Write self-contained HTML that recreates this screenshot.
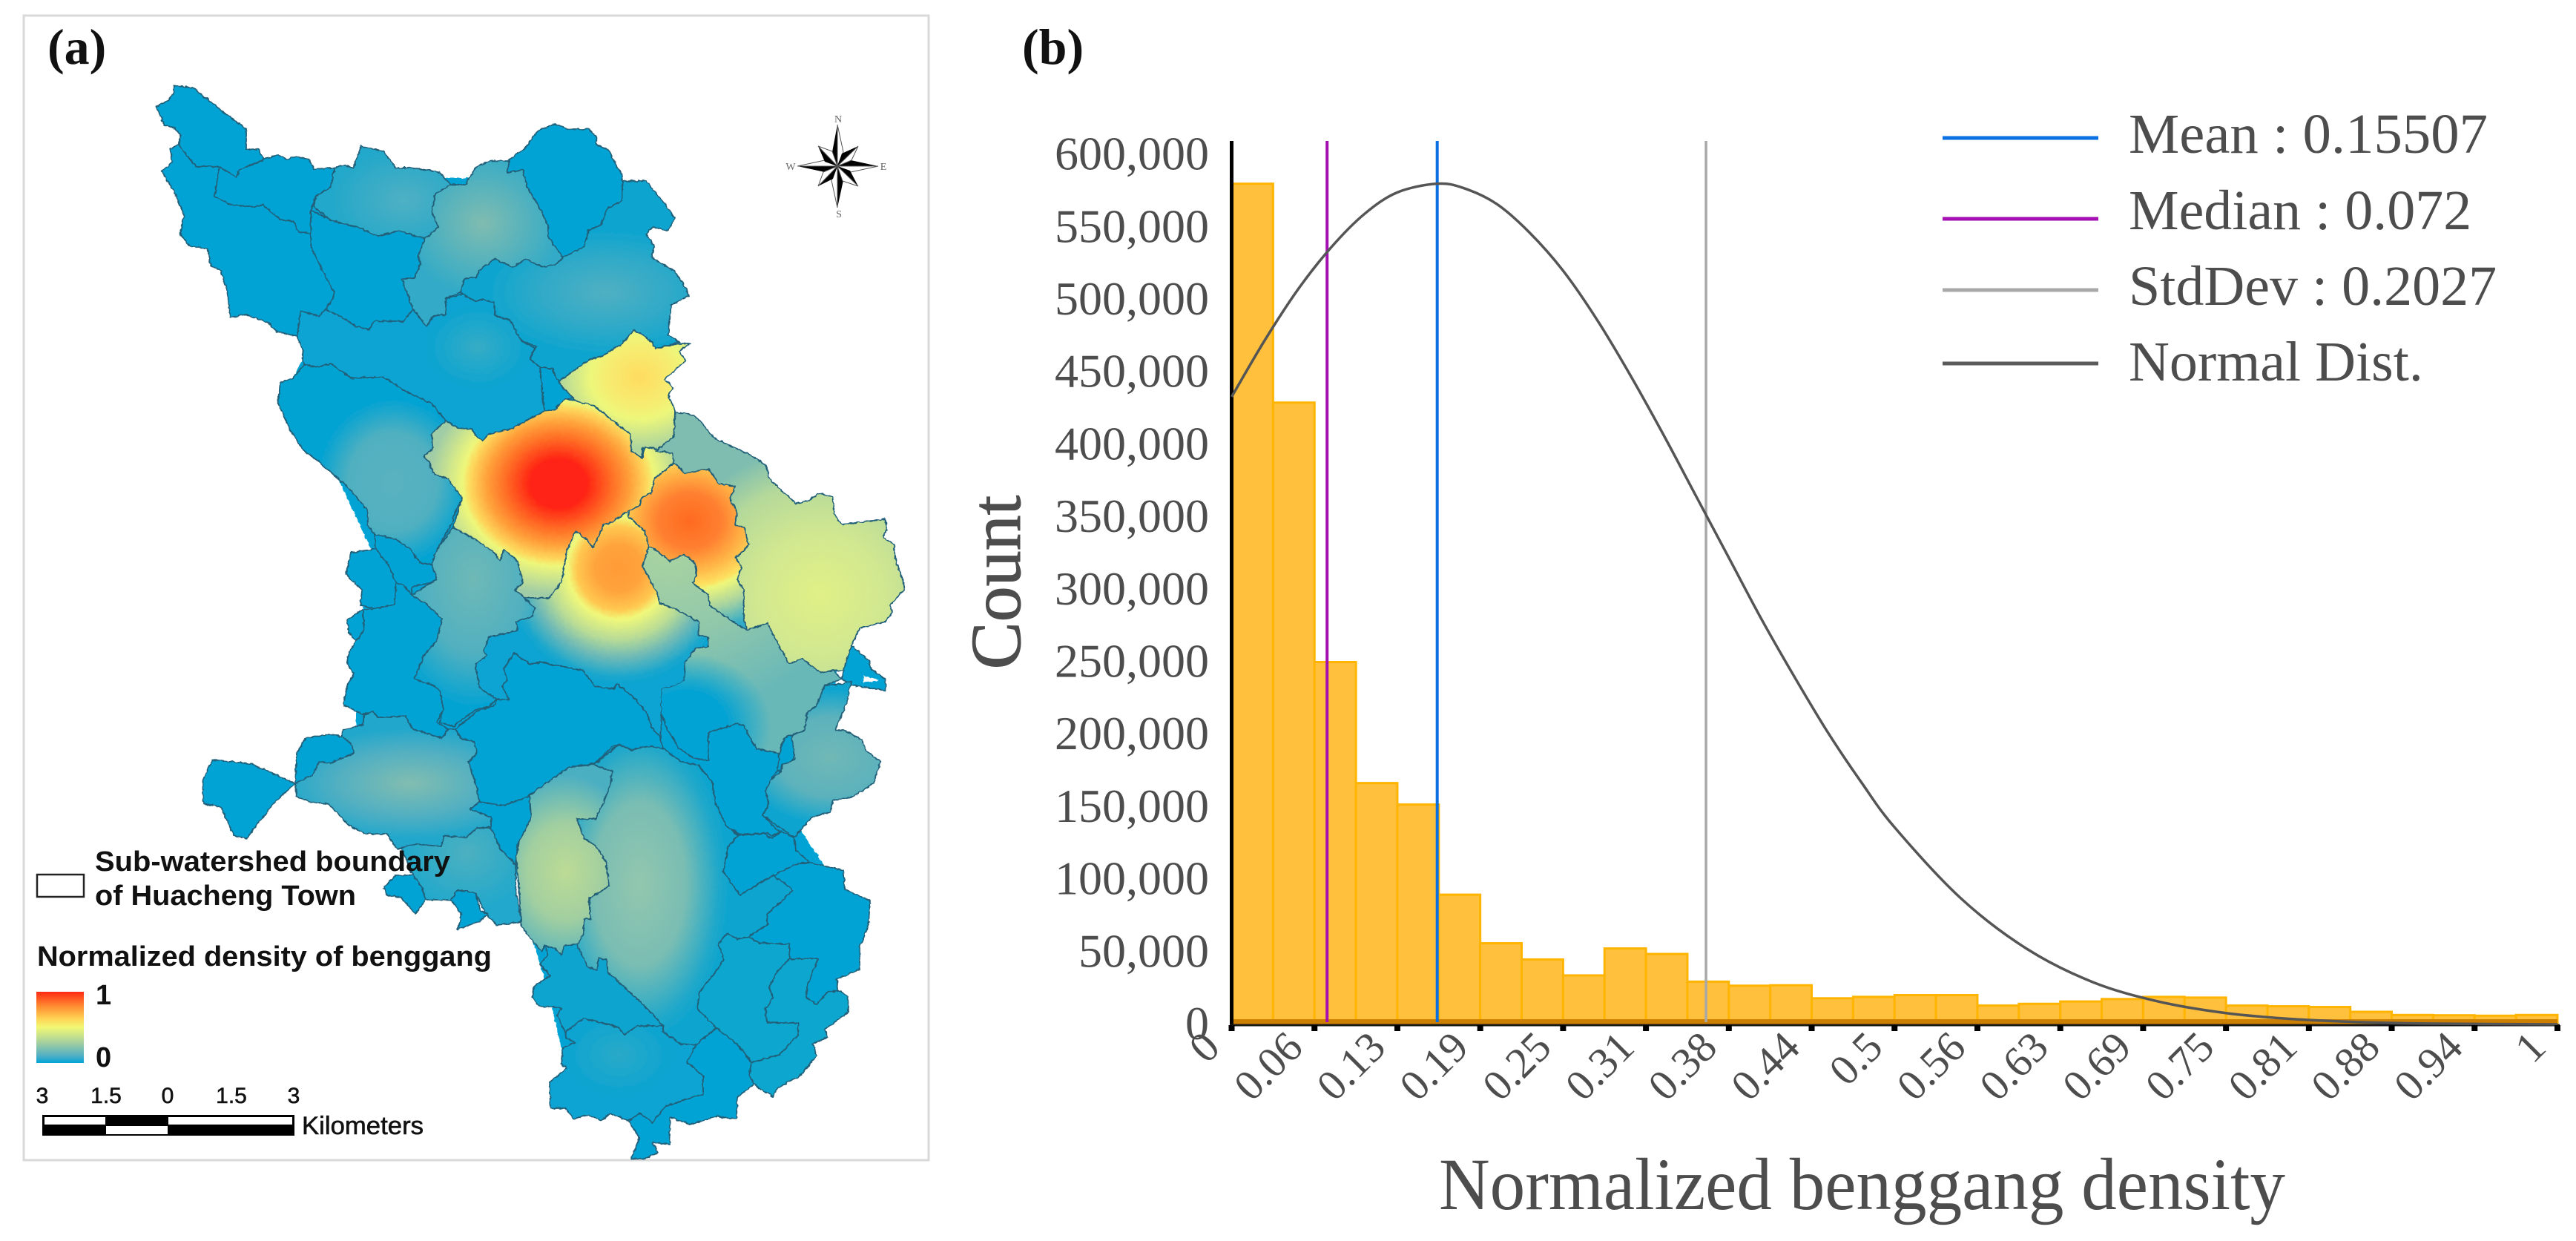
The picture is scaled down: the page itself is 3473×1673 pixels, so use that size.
<!DOCTYPE html>
<html lang="en">
<head>
<meta charset="utf-8">
<title>Benggang density map and histogram</title>
<style>
html,body{margin:0;padding:0;background:#fff;width:3473px;height:1673px;overflow:hidden}
svg{display:block}
.serif{font-family:"Liberation Serif",serif}
.sans{font-family:"Liberation Sans",sans-serif}
.r{stroke:#23607a;stroke-width:1.8;stroke-linejoin:round}
</style>
</head>
<body>
<svg id="figure" xmlns="http://www.w3.org/2000/svg" width="3473" height="1673" viewBox="0 0 3473 1673">
<defs>
<filter id="rough" filterUnits="userSpaceOnUse" x="190" y="90" width="1050" height="1490">
  <feTurbulence type="fractalNoise" baseFrequency="0.18" numOctaves="2" seed="4"/>
  <feDisplacementMap in="SourceGraphic" scale="4" xChannelSelector="R" yChannelSelector="G"/>
</filter>
<linearGradient id="rampLegend" x1="0" y1="0" x2="0" y2="1">
  <stop offset="0" stop-color="#ff2a14"/><stop offset=".2" stop-color="#ff8a30"/><stop offset=".38" stop-color="#ffd455"/><stop offset=".5" stop-color="#f2f874"/><stop offset=".72" stop-color="#a2cfa0"/><stop offset=".9" stop-color="#50aec4"/><stop offset="1" stop-color="#00a5d8"/>
</linearGradient>
<radialGradient id="g4" gradientUnits="userSpaceOnUse" cx="0" cy="0" r="1" gradientTransform="translate(545,270) scale(100,70)"><stop offset="0" stop-color="#4fb0c3"/><stop offset="1" stop-color="#22a8ca"/></radialGradient>
<radialGradient id="g6" gradientUnits="userSpaceOnUse" cx="0" cy="0" r="1" gradientTransform="translate(651,301) scale(110,100)"><stop offset="0" stop-color="#80bcb0"/><stop offset="1" stop-color="#30aac8"/></radialGradient>
<radialGradient id="g8" gradientUnits="userSpaceOnUse" cx="0" cy="0" r="1" gradientTransform="translate(816,394) scale(170,90)"><stop offset="0" stop-color="#50b0c2"/><stop offset=".6" stop-color="#2aa9c9"/><stop offset="1" stop-color="#08a4d0"/></radialGradient>
<radialGradient id="g9" gradientUnits="userSpaceOnUse" cx="0" cy="0" r="1" gradientTransform="translate(644,468) scale(75,60)"><stop offset="0" stop-color="#36acc5"/><stop offset="1" stop-color="#07a3d2"/></radialGradient>
<radialGradient id="g10" gradientUnits="userSpaceOnUse" cx="0" cy="0" r="1" gradientTransform="translate(862,508) scale(110,95)"><stop offset="0" stop-color="#ffdc60"/><stop offset=".4" stop-color="#f6ec70"/><stop offset=".6" stop-color="#edf77a"/><stop offset="1" stop-color="#b0d69c"/></radialGradient>
<radialGradient id="g11" gradientUnits="userSpaceOnUse" cx="0" cy="0" r="1" gradientTransform="translate(530,650) scale(100,110)"><stop offset="0" stop-color="#5ab2bf"/><stop offset=".6" stop-color="#50b0c0"/><stop offset="1" stop-color="#06a3d2"/></radialGradient>
<radialGradient id="g12" gradientUnits="userSpaceOnUse" cx="0" cy="0" r="1" gradientTransform="translate(753,652) scale(175,150)"><stop offset="0" stop-color="#ff2414"/><stop offset=".22" stop-color="#ff2414"/><stop offset=".4" stop-color="#ff6a24"/><stop offset=".55" stop-color="#ffa03a"/><stop offset=".68" stop-color="#fdd85c"/><stop offset=".74" stop-color="#eef77a"/><stop offset="1" stop-color="#a0cca6"/></radialGradient>
<radialGradient id="g13" gradientUnits="userSpaceOnUse" cx="0" cy="0" r="1" gradientTransform="translate(930,702) scale(170,150)"><stop offset="0" stop-color="#ff6a20"/><stop offset=".25" stop-color="#ff8030"/><stop offset=".45" stop-color="#ffb848"/><stop offset=".58" stop-color="#fde060"/><stop offset=".62" stop-color="#eef77a"/><stop offset=".8" stop-color="#a8d3a0"/><stop offset="1" stop-color="#30aac8"/></radialGradient>
<radialGradient id="g14" gradientUnits="userSpaceOnUse" cx="0" cy="0" r="1" gradientTransform="translate(834,766) scale(160,160)"><stop offset="0" stop-color="#ff9a38"/><stop offset=".2" stop-color="#ffa43c"/><stop offset=".35" stop-color="#ffc850"/><stop offset=".43" stop-color="#f0f87a"/><stop offset=".6" stop-color="#b8db96"/><stop offset=".75" stop-color="#70bab6"/><stop offset=".92" stop-color="#18a6ce"/><stop offset="1" stop-color="#08a3d2"/></radialGradient>
<radialGradient id="g16" gradientUnits="userSpaceOnUse" cx="0" cy="0" r="1" gradientTransform="translate(1105,802) scale(210,200)"><stop offset="0" stop-color="#e0f086"/><stop offset=".4" stop-color="#d2e890"/><stop offset=".75" stop-color="#b5d99a"/><stop offset="1" stop-color="#7ebdb0"/></radialGradient>
<radialGradient id="g17" gradientUnits="userSpaceOnUse" cx="0" cy="0" r="1" gradientTransform="translate(639,780) scale(120,170)"><stop offset="0" stop-color="#6fb9b6"/><stop offset=".6" stop-color="#50b0c0"/><stop offset="1" stop-color="#06a3d2"/></radialGradient>
<radialGradient id="g20" gradientUnits="userSpaceOnUse" cx="0" cy="0" r="1" gradientTransform="translate(900,740) scale(270,220)"><stop offset="0" stop-color="#aad4a0"/><stop offset=".5" stop-color="#92c8aa"/><stop offset="1" stop-color="#68b8b8"/></radialGradient>
<radialGradient id="g20b" gradientUnits="userSpaceOnUse" cx="0" cy="0" r="1" gradientTransform="translate(925,980) scale(115,100)"><stop offset="0" stop-color="#05a3d3" stop-opacity="1"/><stop offset=".5" stop-color="#05a3d3" stop-opacity="1"/><stop offset="1" stop-color="#05a3d3" stop-opacity="0"/></radialGradient>
<radialGradient id="g22" gradientUnits="userSpaceOnUse" cx="0" cy="0" r="1" gradientTransform="translate(1119,1020) scale(120,90)"><stop offset="0" stop-color="#70b8b6"/><stop offset=".6" stop-color="#5cb2bc"/><stop offset="1" stop-color="#10a5cf"/></radialGradient>
<radialGradient id="g24" gradientUnits="userSpaceOnUse" cx="0" cy="0" r="1" gradientTransform="translate(862,1192) scale(125,220)"><stop offset="0" stop-color="#93c7ae"/><stop offset=".5" stop-color="#79bdb3"/><stop offset=".85" stop-color="#20a8ca"/><stop offset="1" stop-color="#08a4d0"/></radialGradient>
<radialGradient id="g25" gradientUnits="userSpaceOnUse" cx="0" cy="0" r="1" gradientTransform="translate(762,1175) scale(105,130)"><stop offset="0" stop-color="#bcdb95"/><stop offset=".5" stop-color="#a2cfa0"/><stop offset="1" stop-color="#4cafc2"/></radialGradient>
<radialGradient id="g27" gradientUnits="userSpaceOnUse" cx="0" cy="0" r="1" gradientTransform="translate(553,1056) scale(170,75)"><stop offset="0" stop-color="#82bdb0"/><stop offset=".6" stop-color="#50afc2"/><stop offset="1" stop-color="#20a7cc"/></radialGradient>
<radialGradient id="g30" gradientUnits="userSpaceOnUse" cx="0" cy="0" r="1" gradientTransform="translate(630,1150) scale(90,80)"><stop offset="0" stop-color="#4cb0c0"/><stop offset="1" stop-color="#20a8cc"/></radialGradient>
<radialGradient id="g32" gradientUnits="userSpaceOnUse" cx="0" cy="0" r="1" gradientTransform="translate(834,1422) scale(80,60)"><stop offset="0" stop-color="#2aaac8"/><stop offset="1" stop-color="#08a3d2"/></radialGradient>
</defs>

<rect x="0" y="0" width="3473" height="1673" fill="#ffffff"/>

<!-- Panel a -->
<g>
<rect x="32" y="21" width="1220" height="1543" fill="#fff" stroke="#d9d9d9" stroke-width="3"/>
<text class="serif" x="64" y="86" font-size="68" font-weight="700" fill="#111">(a)</text>

<g>
<g filter="url(#rough)" fill="#05a3d3">
<polygon points="300,240 540,240 820,240 870,340 880,440 890,600 1100,700 1190,780 1130,880 1125,940 1060,1090 1120,1180 1110,1320 1010,1440 860,1480 770,1470 740,1340 710,1240 690,1150 600,1120 440,1050 480,1000 480,900 500,740 440,610 390,520 420,460 310,380 290,340"/>
<polygon class="r" points="235,115 262,119 282,136 301,151 332,174 332,201 348,201 356,215 323,229 319,239 296,225 264,224 253,211 241,195 244,183 235,172 222,169 210,144 226,136 234,126"/>
<polygon class="r" points="241,195 253,211 264,224 296,225 289,265 312,276 344,279 355,276 376,295 396,299 403,313 419,314 419,333 435,365 451,394 448,404 439,417 430,426 405,419 401,453 373,447 362,435 330,424 310,428 307,394 298,365 284,358 280,336 255,331 243,315 248,290 235,258 218,231 232,219 230,201"/>
<polygon class="r" points="296,225 319,239 323,229 356,215 375,208 385,215 398,211 417,215 423,228 451,226 446,252 426,265 419,283 419,314 403,313 396,299 376,295 355,276 344,279 312,276 289,265"/>
<polygon class="r" fill="url(#g4)" points="451,226 466,223 476,227 487,197 517,204 534,227 555,226 592,232 608,249 587,261 582,286 591,306 573,322 537,311 510,319 487,308 446,297 423,279 426,265 446,252"/>
<polygon class="r" points="419,283 446,297 487,308 510,319 537,311 573,322 564,345 567,356 559,374 542,376 557,417 544,433 505,433 498,444 480,440 462,428 439,417 448,404 451,394 435,365 419,333"/>
<polygon class="r" fill="url(#g6)" points="608,249 628,249 641,226 660,217 687,217 684,233 705,229 710,251 723,272 739,304 739,319 759,347 751,356 730,360 709,349 691,360 667,349 646,365 642,374 626,376 621,394 601,402 601,424 584,426 575,440 557,417 542,376 559,374 567,356 564,345 573,322 591,306 582,286 587,261"/>
<polygon class="r" points="684,233 687,215 709,199 725,176 748,167 766,174 794,174 805,185 803,194 821,202 830,222 839,236 839,270 819,281 809,304 794,310 787,333 759,347 739,319 739,304 723,272 710,251 705,229"/>
<polygon class="r" fill="url(#g8)" points="839,244 871,244 894,272 910,294 901,311 880,306 871,315 882,333 878,347 909,365 926,390 928,399 905,411 901,451 916,461 884,470 855,445 839,463 814,479 794,485 753,515 744,497 728,495 714,485 723,467 701,458 687,431 667,426 666,408 651,404 641,406 623,397 621,394 626,376 642,374 646,365 667,349 691,360 709,349 730,360 751,356 759,347 787,333 794,310 809,304 819,281 839,270"/>
<polygon class="r" fill="url(#g9)" points="405,419 430,426 439,417 462,428 480,440 498,444 505,433 544,433 557,417 575,440 584,426 601,424 601,402 623,397 641,406 651,404 666,408 667,426 687,431 703,460 721,469 714,485 728,495 734,554 687,579 659,585 651,594 641,588 637,579 617,577 601,567 582,544 544,526 517,508 473,510 446,490 430,495 410,492 407,483 409,474 401,453"/>
<polygon class="r" points="728,495 744,497 753,515 775,536 762,538 748,552 734,554"/>
<polygon class="r" fill="url(#g10)" points="753,515 794,485 814,479 839,463 855,445 876,458 884,470 916,463 930,463 916,474 925,486 896,511 907,522 901,533 910,554 909,588 884,608 866,604 866,617 851,608 850,585 832,572 801,547 775,540"/>
<polygon class="r" fill="url(#g11)" points="410,492 430,495 446,490 473,510 517,508 544,526 582,544 601,567 582,585 584,604 571,615 577,620 586,640 604,645 623,672 614,690 609,706 589,741 582,761 566,759 554,741 534,727 505,720 496,709 496,688 468,656 427,620 410,608 391,579 375,544 378,515 394,511"/>
<polygon class="r" fill="url(#g17)" points="611,711 637,725 664,743 675,756 679,740 700,756 705,786 695,795 707,806 721,820 718,831 696,838 698,850 659,859 652,877 657,884 641,895 646,927 670,943 659,952 641,957 611,979 593,974 598,956 593,931 584,924 559,915 571,884 589,863 596,834 575,815 555,802 589,781 582,761 589,741"/>
<polygon class="r" points="505,720 534,727 554,741 566,759 582,761 589,781 579,786 555,791 555,802 543,788 534,786 523,761 507,740"/>
<polygon class="r" points="507,740 523,761 534,786 532,815 507,820 486,816 488,795 466,774 473,745"/>
<polygon class="r" points="489,822 491,849 480,865 470,852 468,836"/>
<polygon class="r" points="534,786 543,788 555,802 575,815 596,834 589,863 571,884 559,915 584,924 593,931 598,956 589,974 604,983 596,995 557,983 546,965 511,968 502,959 489,963 463,950 468,924 477,909 468,895 471,879 480,865 491,849 489,822 507,820 532,815"/>
<polygon class="r" fill="url(#g14)" points="800,738 814,707 825,704 848,688 848,697 869,716 875,736 866,763 887,802 889,813 909,820 942,838 942,856 955,859 955,872 937,874 923,895 923,916 912,924 892,929 894,963 896,991 891,995 876,981 873,963 855,941 832,922 826,929 801,925 784,904 728,892 716,897 694,881 679,902 684,916 677,925 686,943 670,943 646,927 641,895 657,884 652,877 659,859 698,850 696,838 718,831 721,820 707,806 741,806 757,784 764,743 776,716 787,724"/>
<polygon class="r" fill="url(#g12)" points="601,567 617,577 637,579 641,588 651,594 659,585 687,579 734,554 748,552 762,538 775,540 801,547 832,572 850,585 851,608 866,617 869,602 907,611 909,626 882,645 878,665 866,670 862,682 848,688 825,704 814,707 800,738 787,724 776,716 764,743 757,784 741,806 709,806 694,795 705,786 698,757 679,740 675,756 664,743 637,725 611,711 623,672 604,645 586,640 577,620 571,615 584,604 582,585"/>
<polygon class="r" fill="url(#g20)" points="875,736 884,741 903,756 921,747 937,759 939,775 934,786 955,802 957,816 991,840 1007,849 1035,840 1044,859 1064,895 1082,888 1107,907 1123,904 1135,915 1112,924 1101,952 1089,959 1085,984 1057,995 1051,1016 1019,1009 1003,979 994,975 957,988 955,1025 935,1022 916,1009 898,981 892,963 892,929 912,924 923,916 923,895 937,874 955,872 955,859 942,856 942,838 909,820 889,813 887,802 866,763"/>
<polygon fill="url(#g20b)" points="875,736 884,741 903,756 921,747 937,759 939,775 934,786 955,802 957,816 991,840 1007,849 1035,840 1044,859 1064,895 1082,888 1107,907 1123,904 1135,915 1112,924 1101,952 1089,959 1085,984 1057,995 1051,1016 1019,1009 1003,979 994,975 957,988 955,1025 935,1022 916,1009 898,981 892,963 892,929 912,924 923,916 923,895 937,874 955,872 955,859 942,856 942,838 909,820 889,813 887,802 866,763"/>
<polygon class="r" fill="url(#g16)" points="910,556 930,558 942,565 962,590 976,597 1007,611 1032,626 1037,645 1048,656 1073,679 1089,675 1105,665 1123,670 1125,693 1135,707 1193,700 1196,711 1191,725 1205,734 1207,754 1217,781 1219,795 1200,816 1203,825 1194,838 1159,847 1148,870 1137,904 1121,904 1107,907 1082,888 1064,895 1044,859 1035,840 1007,849 1003,834 1003,795 994,781 1000,766 992,752 1010,734 1003,711 991,707 994,691 984,672 991,656 969,652 955,632 923,638 909,624 907,611 884,608 909,588"/>
<polygon class="r" fill="url(#g13)" points="909,624 923,638 955,632 969,652 991,656 984,672 994,691 991,707 1003,711 1010,734 992,752 1000,766 994,781 1003,795 1003,834 1007,849 991,840 957,816 955,802 934,786 939,775 937,759 921,747 903,756 884,741 875,736 869,716 848,697 848,688 862,682 866,670 878,665 882,645"/>
<polygon class="r" points="693,881 714,895 730,893 786,904 802,925 827,929 832,922 855,941 873,963 879,981 891,995 895,1011 877,1006 852,1011 829,1004 802,1029 768,1034 736,1056 714,1073 679,1086 646,1081 643,1063 632,1027 643,1015 639,1000 620,995 614,983 643,959 668,950 670,943 686,943 677,925 684,916 679,902"/>
<polygon class="r" points="892,963 898,981 916,1009 935,1022 955,1025 955,988 994,975 1003,979 1019,1009 1051,1016 1048,1038 1039,1052 1032,1066 1037,1084 1028,1099 1051,1122 1041,1127 1035,1123 998,1125 980,1115 964,1081 960,1054 942,1031 918,1027 894,1009 891,997"/>
<polygon class="r" points="1148,870 1171,890 1175,902 1194,916 1194,931 1169,927 1148,924 1135,915 1137,904"/>
<polygon fill="#fff" points="1164,911 1185,917 1165,920"/>
<polygon class="r" fill="url(#g22)" points="1112,924 1135,922 1148,918 1141,949 1126,984 1137,984 1162,997 1167,1011 1187,1027 1178,1056 1150,1074 1123,1079 1119,1095 1094,1102 1071,1129 1028,1099 1037,1084 1032,1066 1039,1052 1053,1040 1055,1031 1071,1024 1068,991 1085,984 1089,959 1101,952"/>
<polygon class="r" points="1051,1016 1057,995 1068,991 1071,1024 1055,1031 1053,1040 1048,1038"/>
<polygon class="r" fill="url(#g24)" points="801,1031 834,1004 851,1011 875,1006 894,1009 918,1027 941,1031 960,1054 964,1081 980,1115 996,1126 982,1141 975,1175 998,1207 1026,1189 1043,1180 1069,1200 1034,1233 1035,1246 1009,1263 994,1266 980,1258 969,1273 976,1293 962,1314 943,1337 941,1361 966,1385 939,1408 919,1408 894,1391 894,1383 869,1356 819,1310 817,1293 807,1292 805,1307 792,1304 778,1273 787,1260 787,1239 796,1239 794,1211 821,1195 817,1162 803,1140 787,1130 778,1104 803,1104 814,1081 823,1057 825,1040"/>
<polygon class="r" fill="url(#g25)" points="714,1072 716,1101 703,1121 696,1155 701,1216 703,1249 730,1283 734,1275 748,1278 757,1288 760,1275 778,1273 787,1260 787,1239 796,1239 794,1211 821,1195 817,1162 803,1140 787,1130 778,1104 803,1104 814,1081 823,1057 825,1040 801,1031 768,1034 736,1056"/>
<polygon class="r" points="646,1081 679,1086 714,1073 716,1102 698,1138 695,1166 675,1145 662,1120 662,1102 634,1091"/>
<polygon class="r" fill="url(#g27)" points="489,977 491,963 502,959 511,968 546,965 557,983 596,995 604,983 614,983 621,995 639,1000 643,1015 632,1027 643,1063 646,1081 634,1091 662,1102 662,1116 643,1116 629,1129 598,1127 595,1141 561,1138 536,1145 521,1124 493,1124 471,1113 443,1084 418,1081 400,1074 398,1056 421,1045 430,1027 445,1029 477,1015 473,1002 461,993 462,984"/>
<polygon class="r" points="412,995 443,990 461,993 473,1002 477,1015 445,1029 430,1027 421,1045 398,1056 400,1016"/>
<polygon class="r" points="274,1051 286,1024 340,1030 398,1056 369,1083 348,1110 332,1131 315,1126 298,1088 274,1083"/>
<polygon class="r" fill="url(#g30)" points="541,1143 561,1138 595,1141 598,1127 629,1129 643,1116 662,1116 675,1145 695,1166 696,1203 703,1243 670,1247 655,1233 641,1203 617,1200 608,1213 574,1213 569,1197 557,1180"/>
<polygon class="r" points="517,1197 533,1180 557,1180 569,1197 574,1213 560,1232 541,1210 522,1207"/>
<polygon class="r" points="608,1213 617,1200 641,1203 648,1228 658,1232 646,1242 617,1253 622,1233"/>
<polygon class="r" fill="#0aa5d0" points="760,1275 778,1273 792,1304 805,1307 807,1292 817,1293 819,1310 869,1356 894,1383 859,1383 842,1395 834,1385 816,1380 787,1373 762,1391 751,1369 757,1359 726,1356 717,1344 721,1329 742,1315 728,1300 739,1287 735,1276 748,1278 757,1288"/>
<polygon class="r" fill="url(#g32)" points="762,1391 787,1373 816,1380 834,1385 842,1395 859,1383 894,1383 894,1391 919,1408 939,1408 926,1432 948,1450 948,1476 937,1478 898,1491 880,1513 862,1501 848,1511 823,1501 810,1511 794,1503 773,1508 762,1494 742,1494 741,1459 764,1440 757,1435 759,1413 775,1405 764,1400"/>
<polygon class="r" points="939,1408 966,1386 994,1408 1014,1434 1010,1450 1017,1461 994,1479 993,1508 966,1505 930,1516 903,1506 903,1543 880,1540 887,1554 869,1562 851,1562 862,1535 848,1511 862,1501 880,1513 898,1491 937,1478 948,1476 948,1450 926,1432"/>
<polygon class="r" fill="#07a6ce" points="980,1258 994,1266 1009,1263 1023,1271 1064,1273 1064,1293 1048,1310 1037,1331 1042,1344 1032,1361 1034,1378 1076,1379 1076,1395 1051,1422 1014,1432 994,1408 966,1386 941,1361 943,1337 962,1314 976,1293 969,1273"/>
<polygon class="r" fill="#07a6ce" points="1064,1293 1103,1292 1089,1327 1087,1344 1101,1354 1116,1337 1132,1336 1143,1344 1144,1364 1112,1388 1116,1398 1096,1407 1101,1423 1080,1449 1048,1467 1042,1478 1023,1467 1017,1461 1010,1450 1014,1432 1051,1422 1076,1395 1076,1379 1034,1378 1032,1361 1042,1344 1037,1331 1048,1310"/>
<polygon class="r" points="996,1126 1030,1124 1041,1130 1053,1121 1071,1130 1073,1146 1091,1162 1073,1165 1043,1180 1026,1189 998,1207 975,1175 982,1141"/>
<polygon class="r" points="1073,1165 1091,1163 1137,1173 1139,1199 1173,1214 1171,1246 1159,1276 1159,1307 1128,1320 1130,1336 1116,1337 1101,1354 1087,1344 1089,1327 1103,1292 1064,1293 1064,1273 1023,1271 1009,1263 1035,1246 1034,1233 1069,1200 1043,1180"/>
</g>
</g>

<g>
  <polygon fill="#000" points="1129,168 1122,205 1129,224"/><polygon fill="#fff" stroke="#555" stroke-width="1" points="1129,168 1137,205 1129,224"/>
  <polygon fill="#000" points="1129,280 1137,243 1129,224"/><polygon fill="#fff" stroke="#555" stroke-width="1" points="1129,280 1121,243 1129,224"/>
  <polygon fill="#000" points="1075,224 1112,232 1129,224"/><polygon fill="#fff" stroke="#555" stroke-width="1" points="1075,224 1112,216 1129,224"/>
  <polygon fill="#000" points="1184,224 1147,216 1129,224"/><polygon fill="#fff" stroke="#555" stroke-width="1" points="1184,224 1147,232 1129,224"/>
  <polygon fill="#000" points="1103,197 1118,212 1129,224 1112,218"/><polygon fill="#fff" stroke="#555" stroke-width="1" points="1103,197 1122,204 1129,224"/>
  <polygon fill="#000" points="1157,197 1135,207 1129,224 1140,218"/><polygon fill="#fff" stroke="#555" stroke-width="1" points="1157,197 1148,216 1129,224"/>
  <polygon fill="#000" points="1157,251 1140,236 1129,224 1146,230"/><polygon fill="#fff" stroke="#555" stroke-width="1" points="1157,251 1136,244 1129,224"/>
  <polygon fill="#000" points="1103,251 1123,241 1129,224 1118,230"/><polygon fill="#fff" stroke="#555" stroke-width="1" points="1103,251 1110,232 1129,224"/>
  <g class="serif" font-size="14" fill="#666" text-anchor="middle">
    <text x="1130" y="165">N</text>
    <text x="1131" y="293">S</text>
    <text x="1066" y="229">W</text>
    <text x="1191" y="229">E</text>
  </g>
</g>

<g>
  <rect x="50" y="1179" width="63" height="30" fill="#fff" stroke="#222" stroke-width="2.5"/>
  <g class="sans" font-weight="700" fill="#111" font-size="38">
    <text x="128" y="1174" textLength="479" lengthAdjust="spacingAndGlyphs">Sub-watershed boundary</text>
    <text x="128" y="1220" textLength="352" lengthAdjust="spacingAndGlyphs">of Huacheng Town</text>
    <text x="50" y="1302" textLength="613" lengthAdjust="spacingAndGlyphs">Normalized density of benggang</text>
    <text x="129" y="1354">1</text>
    <text x="129" y="1438">0</text>
  </g>
  <rect x="49" y="1337" width="64" height="96" fill="url(#rampLegend)"/>
</g>

<g>
  <g class="sans" font-size="30" fill="#111" text-anchor="middle" stroke="#111" stroke-width=".6">
    <text x="57" y="1487">3</text>
    <text x="143" y="1487">1.5</text>
    <text x="226" y="1487">0</text>
    <text x="312" y="1487">1.5</text>
    <text x="396" y="1487">3</text>
  </g>
  <rect x="57" y="1503" width="340" height="28" fill="#000"/>
  <rect x="60" y="1506" width="82" height="10" fill="#fff"/>
  <rect x="227" y="1506" width="167" height="10" fill="#fff"/>
  <rect x="143" y="1518" width="83" height="11" fill="#fff"/>
  <text class="sans" x="407" y="1529" font-size="34" fill="#111" stroke="#111" stroke-width=".6" textLength="164" lengthAdjust="spacingAndGlyphs">Kilometers</text>
</g>
</g>

<!-- Panel b -->
<g id="chart">
<text class="serif" x="1378" y="86" font-size="68" font-weight="700" fill="#111">(b)</text>
<text class="serif" transform="translate(1375,785) rotate(-90)" text-anchor="middle" font-size="96" fill="#4d4d4d" stroke="#4d4d4d" stroke-width="1">Count</text>
<text class="serif" x="1940" y="1630" font-size="100" fill="#4d4d4d" textLength="1141" lengthAdjust="spacingAndGlyphs">Normalized benggang density</text>
<g class="serif" font-size="76" fill="#4d4d4d">
  <line x1="2619" x2="2829" y1="186" y2="186" stroke="#0a6fe0" stroke-width="5"/>
  <text x="2870" y="206" textLength="484" lengthAdjust="spacingAndGlyphs">Mean : 0.15507</text>
  <line x1="2619" x2="2829" y1="295" y2="295" stroke="#a30fb0" stroke-width="5"/>
  <text x="2870" y="309">Median : 0.072</text>
  <line x1="2619" x2="2829" y1="391" y2="391" stroke="#a8a8a8" stroke-width="5"/>
  <text x="2870" y="411">StdDev : 0.2027</text>
  <line x1="2619" x2="2829" y1="490" y2="490" stroke="#5a5a5a" stroke-width="5"/>
  <text x="2870" y="513">Normal Dist.</text>
</g>
</g>
</svg>

<script>
var binCounts = [580000,429000,250000,166500,151700,89500,56000,44800,33800,52400,48600,29500,26700,27000,18000,19000,20200,20200,13000,14200,15800,17500,19000,18500,13000,12500,12000,8700,6500,6300,6000,6500];
var yTickValues = [0,50000,100000,150000,200000,250000,300000,350000,400000,450000,500000,550000,600000];
var xTickLabels = ["0","0.06","0.13","0.19","0.25","0.31","0.38","0.44","0.5","0.56","0.63","0.69","0.75","0.81","0.88","0.94","1"];
var curveXValues = [0,0.025,0.05,0.075,0.1,0.125,0.155,0.175,0.2,0.225,0.25,0.275,0.3,0.325,0.35,0.375,0.4,0.425,0.45,0.475,0.5,0.55,0.6,0.65,0.7,0.75,0.8,0.85,0.9,1];
var curveYValues = [433000,472000,507000,536000,559000,574000,580000,577000,566000,546000,520000,487000,449000,408000,365000,322000,279000,239000,201000,167000,136000,87000,52000,29000,15600,7800,3700,1600,600,0];
var meanValue = 0.15507;
var medianValue = 0.072;
var stdDevLineValue = 0.3578;

var SVGNS = 'http://www.w3.org/2000/svg';
var chart = document.getElementById('chart');
var PLOT_LEFT = 1660.5, PLOT_RIGHT = 3448, PLOT_BASE = 1381, PLOT_TOP = 190, PX_PER_UNIT = 97.7 / 50000;
function xScale(v) { return PLOT_LEFT + v * (PLOT_RIGHT - PLOT_LEFT); }
function yScale(v) { return PLOT_BASE - v * PX_PER_UNIT; }
function make(tag, attrs) {
  var n = document.createElementNS(SVGNS, tag);
  for (var k in attrs) n.setAttribute(k, attrs[k]);
  return n;
}
function formatCount(v) { return v.toLocaleString('en-US'); }

var binWidth = 1 / binCounts.length;
binCounts.forEach(function (c, i) {
  var bar = make('rect', {
    x: xScale(i * binWidth), y: yScale(c),
    width: xScale((i + 1) * binWidth) - xScale(i * binWidth),
    height: PLOT_BASE - yScale(c),
    fill: '#ffc13d', stroke: '#ffb400', 'stroke-width': 3
  });
  
  
  chart.appendChild(bar);
});

var band = make('rect', { x: xScale(0), y: PLOT_BASE - 7, width: xScale(1) - xScale(0), height: 7, fill: '#cc7f00' });


chart.appendChild(band);

var yAxis = make('line', { x1: PLOT_LEFT, x2: PLOT_LEFT, y1: PLOT_TOP, y2: PLOT_BASE + 3, stroke: '#000', 'stroke-width': 5 });


chart.appendChild(yAxis);

var xAxis = make('line', { x1: PLOT_LEFT - 2, x2: PLOT_RIGHT + 3, y1: PLOT_BASE + 1, y2: PLOT_BASE + 1, stroke: '#1a1a1a', 'stroke-width': 3 });


chart.appendChild(xAxis);

function addStatLine(value, color, width, name) {
  var l = make('line', { x1: xScale(value), x2: xScale(value), y1: PLOT_TOP, y2: PLOT_BASE - 3, stroke: color, 'stroke-width': width });
  
  
  chart.appendChild(l);
}
addStatLine(medianValue, '#a30fb0', 4, 'median-line');
addStatLine(meanValue, '#0a6fe0', 4, 'mean-line');
addStatLine(stdDevLineValue, '#a8a8a8', 3.5, 'stddev-line');

var pts = curveXValues.map(function (x, i) { return [xScale(x), yScale(curveYValues[i])]; });
var d = 'M' + pts[0][0] + ' ' + pts[0][1];
for (var i = 0; i < pts.length - 1; i++) {
  var p0 = pts[Math.max(i - 1, 0)], p1 = pts[i], p2 = pts[i + 1], p3 = pts[Math.min(i + 2, pts.length - 1)];
  d += ' C' + (p1[0] + (p2[0] - p0[0]) / 6) + ' ' + (p1[1] + (p2[1] - p0[1]) / 6) + ' ' +
       (p2[0] - (p3[0] - p1[0]) / 6) + ' ' + (p2[1] - (p3[1] - p1[1]) / 6) + ' ' + p2[0] + ' ' + p2[1];
}
var curve = make('path', { d: d, fill: 'none', stroke: '#555555', 'stroke-width': 3.5 });


chart.appendChild(curve);

yTickValues.forEach(function (v) {
  var t = make('text', { x: 1630, y: yScale(v) + 20, 'text-anchor': 'end', 'font-size': 64, fill: '#4d4d4d', 'class': 'serif' });
  t.textContent = formatCount(v);
  
  
  chart.appendChild(t);
});

xTickLabels.forEach(function (label, i) {
  var x = xScale(i / (xTickLabels.length - 1));
  var tick = make('rect', { x: x - 4, y: PLOT_BASE + 1, width: 8, height: 8, fill: '#000' });
  
  
  chart.appendChild(tick);
  var ax = x - 13, ay = PLOT_BASE + 34;
  var t = make('text', { x: 0, y: 0, 'text-anchor': 'end', 'font-size': 58, fill: '#4d4d4d', 'class': 'serif', transform: 'translate(' + ax + ',' + ay + ') rotate(-45)' });
  t.textContent = label;
  
  
  chart.appendChild(t);
});
</script>
</body>
</html>
